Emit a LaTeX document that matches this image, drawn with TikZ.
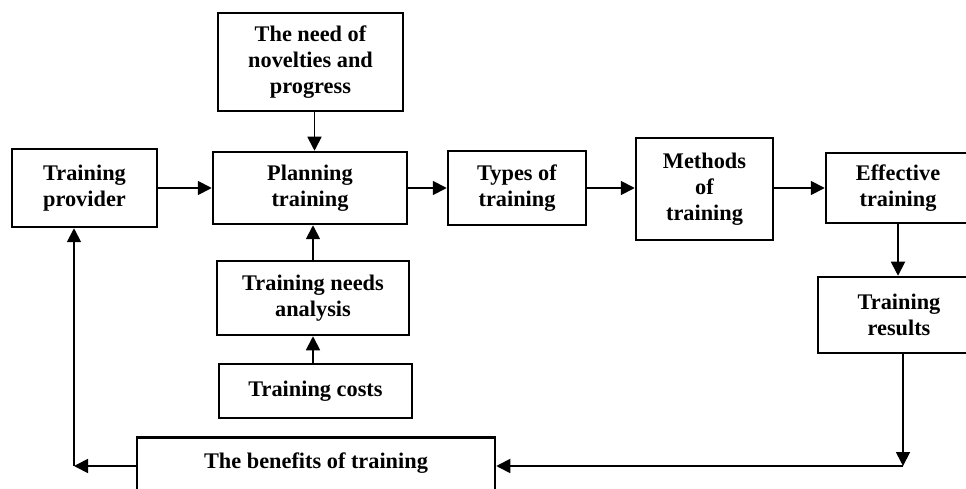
\documentclass[tikz,border=0pt]{standalone}
\usepackage{fontspec}
\setmainfont{Liberation Serif}
\usepackage{tikz}
\usetikzlibrary{positioning, calc, arrows.meta}

\begin{document}
\begin{tikzpicture}[x=0.2mm, y=-0.2mm,
    font=\bfseries\fontsize{12.7}{14.8}\selectfont,
    box/.style={draw, line width=0.5mm, align=center, inner sep=0pt},
    flow/.style={-{Triangle[length=2.8mm, width=2.8mm]}, line width=0.35mm}]
    % Frame
    \useasboundingbox (0,0) rectangle (966,489);
    \clip (0,0) rectangle (966,489);

    % Boxes
    \node[box, minimum width=29mm, minimum height=15.6mm] (provider) at (84.5,188) {Training\\provider};
    \node[box, minimum width=37mm, minimum height=19.6mm] (need) at (310.5,62) {The need of\\novelties and\\progress};
    \node[box, minimum width=38.8mm, minimum height=14.4mm] (planning) at (310,188) {Planning\\training};
    \node[box, minimum width=27.6mm, minimum height=14.8mm] (types) at (517,188) {Types of\\training};
    \node[box, minimum width=27.4mm, minimum height=20.4mm] (methods) at (704.5,189) {Methods\\of\\training};
    \node[box, minimum width=28.8mm, minimum height=14mm] (effective) at (898,188) {Effective\\training};
    \node[box, minimum width=32.4mm, minimum height=15.2mm] (results) at (899,315) {Training\\results};
    \node[box, minimum width=38.4mm, minimum height=14.8mm] (analysis) at (313,298) {Training needs\\analysis};
    \node[box, minimum width=38.6mm, minimum height=10.8mm] (costs) at (315.5,391) {Training costs};
    \node[box, minimum width=71.6mm, text height=6.2mm, text depth=8mm, anchor=north] (benefits) at (316,436) {The benefits of training};

    % Corners of the feedback loop
    \coordinate (n1) at ($(need.south)+(4,0)$);
    \coordinate (c1) at (903,466);
    \coordinate (c2) at (74,466);

    % Arrows
    \draw[flow] (provider.east) -- (provider.east -| planning.west);
    \draw[flow] (n1) -- (n1 |- planning.north);
    \draw[flow] (planning.east) -- (planning.east -| types.west);
    \draw[flow] (types.east) -- (types.east -| methods.west);
    \draw[flow] (methods.east |- planning.east) -- (planning.east -| effective.west);
    \draw[flow] (effective.south) -- (effective.south |- results.north);
    \draw[flow] (analysis.north) -- (analysis.north |- planning.south);
    \draw[flow] (analysis.south |- costs.north) -- (analysis.south);
    \draw[flow] (c1 |- results.south) -- (c1);
    \draw[flow] (c1) -- (benefits.east |- c1);
    \draw[flow] (benefits.west |- c2) -- (c2);
    \draw[flow] (c2) -- (c2 |- provider.south);

\end{tikzpicture}
\end{document}
